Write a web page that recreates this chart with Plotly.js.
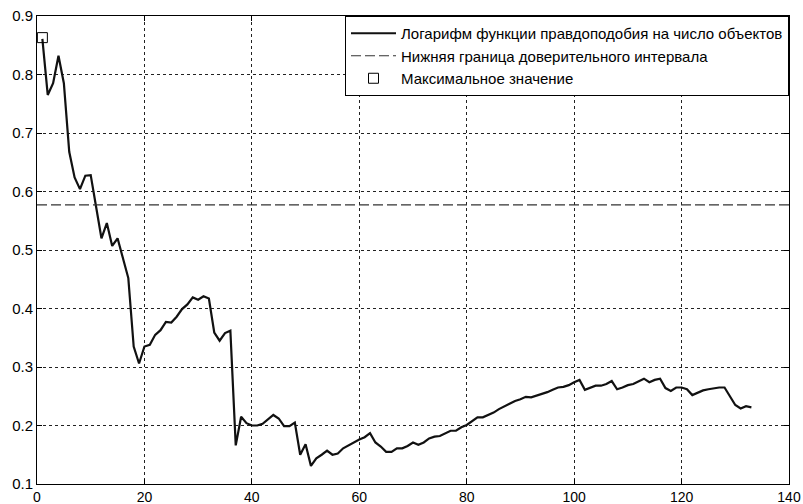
<!DOCTYPE html>
<html>
<head>
<meta charset="utf-8">
<script src="https://cdn.plot.ly/plotly-3.0.1.min.js"></script>
<style>
  html, body { margin: 0; padding: 0; background: #fff; }
  #chart { width: 803px; height: 504px; }
</style>
</head>
<body>
<div id="chart"></div>
<script>
// log-likelihood per object, one value per object count starting at 1
const logLik = [
  0.861, 0.765, 0.785, 0.832, 0.785, 0.668, 0.624, 0.604, 0.627, 0.628,
  0.574, 0.520, 0.546, 0.507, 0.520, 0.488, 0.452, 0.335, 0.306, 0.335,
  0.338, 0.355, 0.363, 0.377, 0.376, 0.386, 0.399, 0.407, 0.419, 0.415,
  0.421, 0.417, 0.359, 0.345, 0.358, 0.362, 0.166, 0.215, 0.204, 0.200,
  0.200, 0.203, 0.211, 0.218, 0.212, 0.199, 0.199, 0.205, 0.150, 0.168,
  0.131, 0.144, 0.150, 0.157, 0.150, 0.152, 0.161, 0.166, 0.172, 0.176,
  0.180, 0.187, 0.171, 0.164, 0.155, 0.155, 0.161, 0.161, 0.165, 0.171,
  0.167, 0.171, 0.178, 0.181, 0.182, 0.187, 0.191, 0.191, 0.197, 0.201,
  0.208, 0.214, 0.214, 0.218, 0.222, 0.228, 0.233, 0.238, 0.242, 0.245,
  0.249, 0.248, 0.251, 0.253, 0.257, 0.261, 0.265, 0.266, 0.269, 0.274,
  0.278, 0.261, 0.265, 0.268, 0.268, 0.271, 0.276, 0.262, 0.265, 0.269,
  0.271, 0.276, 0.280, 0.274, 0.278, 0.280, 0.264, 0.259, 0.265, 0.265,
  0.262, 0.252, 0.256, 0.260, 0.262, 0.264, 0.265, 0.265, 0.249, 0.235,
  0.229, 0.233, 0.231
];
const objCount = logLik.map((_, i) => i + 1);

const lowerBound = 0.577;
const boundX = [0, 140];

const maxX = [1];
const maxY = [0.863];

const seriesNames = [
  "Логарифм функции правдоподобия на число объектов",
  "Нижняя граница доверительного интервала",
  "Максимальное значение"
];

const xTicks = [0, 20, 40, 60, 80, 100, 120, 140];
const yTicks = [0.1, 0.2, 0.3, 0.4, 0.5, 0.6, 0.7, 0.8, 0.9];

const font = "Liberation Sans, Arial, Helvetica, sans-serif";

const axisBase = {
  showline: true,
  linecolor: "#000",
  linewidth: 1,
  mirror: "allticks",
  ticks: "inside",
  ticklen: 5,
  tickcolor: "#000",
  showgrid: true,
  gridcolor: "#222",
  gridwidth: 1,
  griddash: "dot",
  zeroline: false,
  tickfont: { family: font, size: 15, color: "#000" }
};

Plotly.newPlot("chart", [
  {
    type: "scatter",
    mode: "lines",
    name: seriesNames[0],
    x: objCount,
    y: logLik,
    line: { color: "#111", width: 2.2 }
  },
  {
    type: "scatter",
    mode: "lines",
    name: seriesNames[1],
    x: boundX,
    y: boundX.map(() => lowerBound),
    line: { color: "#333", width: 1.2, dash: "10px,4px" }
  },
  {
    type: "scatter",
    mode: "markers",
    name: seriesNames[2],
    x: maxX,
    y: maxY,
    marker: {
      symbol: "square-open",
      size: 10,
      color: "#000",
      line: { color: "#000", width: 1 }
    }
  }
], {
  width: 803,
  height: 504,
  paper_bgcolor: "#fff",
  plot_bgcolor: "#fff",
  margin: { l: 37, r: 14, t: 16, b: 20 },
  showlegend: true,
  legend: {
    x: 1,
    y: 1,
    xanchor: "right",
    yanchor: "top",
    bgcolor: "#fff",
    bordercolor: "#000",
    borderwidth: 1,
    itemwidth: 45,
    font: { family: font, size: 15, color: "#000" },
    tracegroupgap: 0
  },
  xaxis: Object.assign({}, axisBase, {
    range: [0, 140],
    tickvals: xTicks,
    ticktext: xTicks.map(String),
    tickfont: { family: font, size: 14, color: "#000" },
    ticklabelstandoff: 0
  }),
  yaxis: Object.assign({}, axisBase, {
    range: [0.1, 0.9],
    tickvals: yTicks,
    ticktext: yTicks.map(v => v.toFixed(1))
  })
}, {
  displayModeBar: false
});
</script>
</body>
</html>
